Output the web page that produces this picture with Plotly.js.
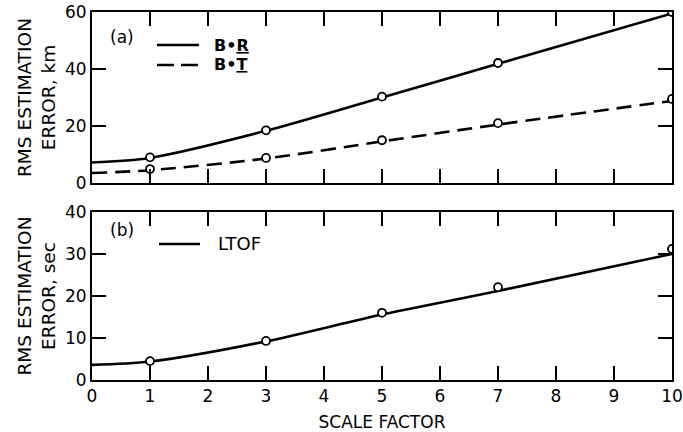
<!DOCTYPE html>
<html>
<head>
<meta charset="utf-8">
<script src="https://cdn.plot.ly/plotly-3.0.1.min.js"></script>
<style>html,body{margin:0;padding:0;background:#fff;}#chart{width:683px;height:432px;}</style>
</head>
<body>
<div id="chart"></div>
<script>
// Panel (a): B·R and B·T position errors (km)
const curveX = [0, 1, 3, 5, 7, 10];
const brCurve = [7.2, 8.8, 18.3, 30.0, 41.8, 59.5];
const btCurve = [3.5, 4.5, 8.6, 14.6, 20.5, 28.8];
const pointX = [1, 3, 5, 7, 10];
const brPoints = [9.0, 18.5, 30.3, 42.1, 60.0];
const btPoints = [4.9, 8.8, 15.0, 21.0, 29.5];
// Panel (b): LTOF error (sec)
const ltofCurve = [3.6, 4.4, 9.2, 15.6, 21.2, 30.0];
const ltofPoints = [4.5, 9.3, 16.0, 22.1, 31.2];
// Tick values
const xTicks = [0, 1, 2, 3, 4, 5, 6, 7, 8, 9, 10];
const yTicksTop = [0, 20, 40, 60];
const yTicksBottom = [0, 10, 20, 30, 40];

const FONT = 'DejaVu Sans, Arial, sans-serif';
const lineStyle = {color: '#000', width: 2.6, shape: 'spline', smoothing: 0.8};
const markerStyle = {symbol: 'circle', size: 8, color: '#fff', line: {color: '#000', width: 1.8}};

const traces = [
  {x: curveX, y: brCurve, xaxis: 'x2', yaxis: 'y2', mode: 'lines', line: lineStyle, showlegend: false},
  {x: curveX, y: btCurve, xaxis: 'x2', yaxis: 'y2', mode: 'lines', line: Object.assign({}, lineStyle, {dash: '15px,8px'}), showlegend: false},
  {x: pointX, y: brPoints, xaxis: 'x2', yaxis: 'y2', mode: 'markers', marker: markerStyle, showlegend: false},
  {x: pointX, y: btPoints, xaxis: 'x2', yaxis: 'y2', mode: 'markers', marker: markerStyle, showlegend: false},
  {x: curveX, y: ltofCurve, xaxis: 'x', yaxis: 'y', mode: 'lines', line: lineStyle, showlegend: false},
  {x: pointX, y: ltofPoints, xaxis: 'x', yaxis: 'y', mode: 'markers', marker: markerStyle, showlegend: false}
];

function axis(extra) {
  return Object.assign({
    showline: true, linecolor: '#000', linewidth: 2, mirror: 'ticks',
    ticks: 'inside', ticklen: 14, tickwidth: 1.5, tickcolor: '#000',
    showgrid: false, zeroline: false
  }, extra);
}
const tf = {family: FONT, size: 17, color: '#000'};
const titleFont = {family: FONT, size: 18.5, color: '#000'};

// Inside tick marks on all four sides, placed on each axis' own scale
const TICK = {color: '#000', width: 1.5};
function tickMarks(xa, ya, xvals, yvals, xLenFrac, yLenFrac) {
  const out = [];
  const xin = xvals.slice(1, -1), yin = yvals.slice(1, -1);
  xin.forEach(v => {
    out.push({type: 'line', xref: xa, yref: ya + ' domain', x0: v, x1: v, y0: 0, y1: yLenFrac, line: TICK, layer: 'above'});
    out.push({type: 'line', xref: xa, yref: ya + ' domain', x0: v, x1: v, y0: 1, y1: 1 - yLenFrac, line: TICK, layer: 'above'});
  });
  yin.forEach(v => {
    out.push({type: 'line', xref: xa + ' domain', yref: ya, x0: 0, x1: xLenFrac, y0: v, y1: v, line: TICK, layer: 'above'});
    out.push({type: 'line', xref: xa + ' domain', yref: ya, x0: 1, x1: 1 - xLenFrac, y0: v, y1: v, line: TICK, layer: 'above'});
  });
  return out;
}

const legendShapes = [
  {type: 'line', xref: 'paper', yref: 'paper', x0: 0.1121, x1: 0.1845, y0: 0.9103, y1: 0.9103, line: {color: '#000', width: 2.6}},
  {type: 'line', xref: 'paper', yref: 'paper', x0: 0.1121, x1: 0.1845, y0: 0.8560, y1: 0.8560, line: {color: '#000', width: 2.6, dash: '17px,7px'}},
  {type: 'line', xref: 'paper', yref: 'paper', x0: 0.1155, x1: 0.1862, y0: 0.3696, y1: 0.3696, line: {color: '#000', width: 2.6}}
];

const layout = {
  width: 683, height: 432,
  margin: {l: 92, r: 11, t: 12, b: 52},
  showlegend: false,
  xaxis: axis({
    domain: [0, 1], anchor: 'y', range: [0, 10], tickmode: 'array', tickvals: xTicks,
    tickfont: tf,
    title: {text: 'SCALE FACTOR', font: {family: FONT, size: 17, color: '#000'}}
  }),
  yaxis: axis({
    domain: [0, 0.4565], anchor: 'x', range: [0, 40], tickmode: 'array', tickvals: yTicksBottom, tickfont: tf,
    title: {text: 'RMS ESTIMATION<br>ERROR, sec', font: titleFont, standoff: 4}
  }),
  xaxis2: axis({
    domain: [0, 1], anchor: 'y2', range: [0, 10], tickmode: 'array', tickvals: xTicks, showticklabels: false
  }),
  yaxis2: axis({
    domain: [0.5353, 1], anchor: 'x2', range: [0, 60], tickmode: 'array', tickvals: yTicksTop, tickfont: tf,
    title: {text: 'RMS ESTIMATION<br>ERROR, km', font: titleFont, standoff: 4}
  }),
  shapes: legendShapes
    .concat(tickMarks('x2', 'y2', xTicks, yTicksTop, 14 / 580, 14 / 171))
    .concat(tickMarks('x', 'y', xTicks, yTicksBottom, 14 / 580, 14 / 168)),
  annotations: [
    {xref: 'paper', yref: 'paper', x: 0.0276, y: 0.9321, xanchor: 'left', yanchor: 'middle', showarrow: false, text: '(a)', font: {family: FONT, size: 17, color: '#000'}},
    {xref: 'paper', yref: 'paper', x: 0.2069, y: 0.9103, xanchor: 'left', yanchor: 'middle', showarrow: false, text: '<b>B•<u>R</u></b>', font: {family: FONT, size: 16, color: '#000'}},
    {xref: 'paper', yref: 'paper', x: 0.2069, y: 0.8560, xanchor: 'left', yanchor: 'middle', showarrow: false, text: '<b>B•<u>T</u></b>', font: {family: FONT, size: 16, color: '#000'}},
    {xref: 'paper', yref: 'paper', x: 0.0276, y: 0.4076, xanchor: 'left', yanchor: 'middle', showarrow: false, text: '(b)', font: {family: FONT, size: 17, color: '#000'}},
    {xref: 'paper', yref: 'paper', x: 0.2138, y: 0.3696, xanchor: 'left', yanchor: 'middle', showarrow: false, text: 'LTOF', font: {family: FONT, size: 18, color: '#000'}}
  ]
};

Plotly.newPlot('chart', traces, layout, {displayModeBar: false});
</script>
</body>
</html>
